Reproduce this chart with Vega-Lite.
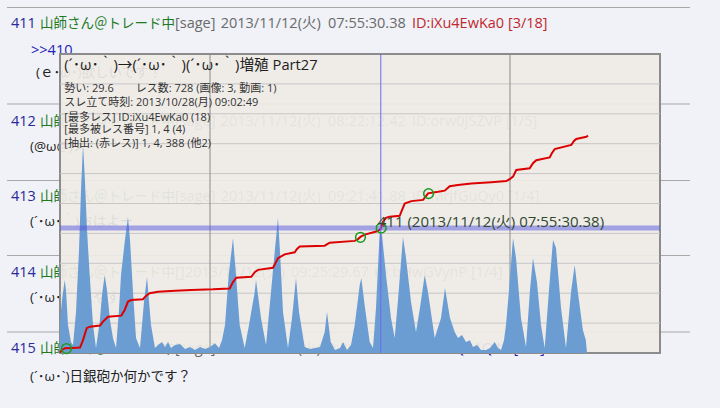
{
  "$schema": "https://vega.github.io/schema/vega-lite/v6.json",
  "width": 600,
  "height": 299,
  "autosize": {"type": "none"},
  "padding": {"left": 60, "top": 54, "right": 60, "bottom": 55},
  "background": "#f0f2f7",
  "config": {"view": {"stroke": null}, "axis": {"disable": true}, "text": {"font": "Open Sans, Noto Sans CJK JP"}},
  "datasets": {
    "seps": [{"n": 1155.5}, {"n": 832.8}, {"n": 576.9}, {"n": 326.1}, {"n": 70.2}],
    "page": [
      {"d": -2.287, "n": 1098.7, "t": "411", "k": "num"},
      {"d": -0.933, "n": 1098.7, "t": "山師さん＠トレード中", "k": "name"},
      {"d": 5.367, "n": 1098.7, "t": "[sage]", "k": "meta"},
      {"d": 7.499, "n": 1098.7, "t": "2013/11/12(火)", "k": "meta"},
      {"d": 12.507, "n": 1098.7, "t": "07:55:30.38", "k": "meta"},
      {"d": 16.427, "n": 1098.7, "t": "ID:iXu4EwKa0 [3/18]", "k": "id"},
      {"d": -1.353, "n": 1010, "t": ">>410", "k": "link"},
      {"d": -1.12, "n": 938, "t": "(ｅ･ω･)欲しいです！", "k": "body"},
      {"d": -2.287, "n": 774.2, "t": "412", "k": "num"},
      {"d": -0.933, "n": 774.2, "t": "山師さん＠トレード中", "k": "name"},
      {"d": 5.367, "n": 774.2, "t": "[sage]", "k": "meta"},
      {"d": 7.499, "n": 774.2, "t": "2013/11/12(火)", "k": "meta"},
      {"d": 12.507, "n": 774.2, "t": "08:22:12.42", "k": "meta"},
      {"d": 16.427, "n": 774.2, "t": "ID:orw0JSZVP [1/5]", "k": "meta"},
      {"d": -1.4, "n": 687.3, "t": "(@ω@)ノ", "k": "body"},
      {"d": -2.287, "n": 520.1, "t": "413", "k": "num"},
      {"d": -0.933, "n": 520.1, "t": "山師さん＠トレード中", "k": "name"},
      {"d": 5.367, "n": 520.1, "t": "[sage]", "k": "meta"},
      {"d": 7.499, "n": 520.1, "t": "2013/11/12(火)", "k": "meta"},
      {"d": 12.507, "n": 520.1, "t": "09:21:41.88", "k": "meta"},
      {"d": 16.427, "n": 520.1, "t": "ID:MrjfGuQy0 [1/4]", "k": "meta"},
      {"d": -1.4, "n": 436.5, "t": "(´･ω･｀)おはよー", "k": "body"},
      {"d": -2.287, "n": 269.2, "t": "414", "k": "num"},
      {"d": -0.933, "n": 269.2, "t": "山師さん＠トレード中", "k": "name"},
      {"d": 5.367, "n": 269.2, "t": "[]", "k": "meta"},
      {"d": 5.833, "n": 269.2, "t": "2013/11/12(火)", "k": "meta"},
      {"d": 10.78, "n": 269.2, "t": "09:25:29.67", "k": "meta"},
      {"d": 14.653, "n": 269.2, "t": "ID:bHwGVynP [1/4]", "k": "meta"},
      {"d": -1.4, "n": 184, "t": "(´･ω･｀)ふやすよ", "k": "body"},
      {"d": -2.287, "n": 13.4, "t": "415", "k": "num"},
      {"d": -0.933, "n": 13.4, "t": "山師さん＠トレード中", "k": "name"},
      {"d": 5.367, "n": 13.4, "t": "[sage]", "k": "meta"},
      {"d": 7.499, "n": 13.4, "t": "2013/11/12(火)", "k": "meta"},
      {"d": 12.1, "n": 13.4, "t": "09:30:04.21", "k": "meta"},
      {"d": 15.68, "n": 13.4, "t": "ID:mB+8QkAQ40 [1/2]", "k": "link"},
      {"d": -1.4, "n": -80.3, "t": "(´･ω･`)日銀砲か何かです？", "k": "body"}
    ],
    "hgrid": [{"n": 100}, {"n": 200}, {"n": 300}, {"n": 400}, {"n": 500}, {"n": 600}, {"n": 700}, {"n": 800}, {"n": 900}],
    "vgrid": [{"d": 7}, {"d": 21}],
    "rate": [
      {"d": 0.0, "r": 10.4}, {"d": 0.093, "r": 17.7}, {"d": 0.219, "r": 24.4}, {"d": 0.28, "r": 21.1}, {"d": 0.373, "r": 9.4},
      {"d": 0.513, "r": 3.7}, {"d": 0.607, "r": 2.7}, {"d": 0.747, "r": 13.7}, {"d": 0.887, "r": 34.4}, {"d": 0.98, "r": 54.5},
      {"d": 1.073, "r": 69.6}, {"d": 1.153, "r": 59.5}, {"d": 1.26, "r": 41.1}, {"d": 1.386, "r": 26.1}, {"d": 1.54, "r": 9.4},
      {"d": 1.68, "r": 1.7}, {"d": 1.853, "r": 10.4}, {"d": 1.96, "r": 19.4}, {"d": 2.086, "r": 26.1}, {"d": 2.193, "r": 21.1},
      {"d": 2.333, "r": 11.0}, {"d": 2.473, "r": 5.0}, {"d": 2.613, "r": 1.7}, {"d": 2.753, "r": 14.4}, {"d": 2.847, "r": 26.1},
      {"d": 3.019, "r": 37.1}, {"d": 3.173, "r": 45.5}, {"d": 3.267, "r": 37.8}, {"d": 3.407, "r": 20.4}, {"d": 3.547, "r": 5.0},
      {"d": 3.733, "r": 1.7}, {"d": 3.92, "r": 17.1}, {"d": 4.06, "r": 25.4}, {"d": 4.247, "r": 9.4}, {"d": 4.433, "r": 1.7},
      {"d": 4.573, "r": 2.7}, {"d": 4.76, "r": 3.7}, {"d": 4.9, "r": 2.0}, {"d": 5.04, "r": 3.7}, {"d": 5.18, "r": 1.7},
      {"d": 5.367, "r": 2.7}, {"d": 5.6, "r": 3.0}, {"d": 5.833, "r": 1.3}, {"d": 6.067, "r": 2.0}, {"d": 6.3, "r": 1.0},
      {"d": 6.533, "r": 2.0}, {"d": 6.767, "r": 1.3}, {"d": 7.0, "r": 2.0}, {"d": 7.233, "r": 3.3}, {"d": 7.42, "r": 1.7},
      {"d": 7.56, "r": 4.3}, {"d": 7.7, "r": 9.4}, {"d": 7.873, "r": 26.1}, {"d": 8.073, "r": 38.5}, {"d": 8.213, "r": 26.1},
      {"d": 8.386, "r": 9.4}, {"d": 8.619, "r": 1.7}, {"d": 8.82, "r": 9.4}, {"d": 9.086, "r": 20.4}, {"d": 9.147, "r": 24.4},
      {"d": 9.38, "r": 11.7}, {"d": 9.613, "r": 2.7}, {"d": 9.847, "r": 20.4}, {"d": 10.019, "r": 33.8}, {"d": 10.173, "r": 45.2},
      {"d": 10.267, "r": 33.8}, {"d": 10.407, "r": 13.7}, {"d": 10.64, "r": 1.7}, {"d": 10.827, "r": 11.7}, {"d": 11.013, "r": 25.1},
      {"d": 11.153, "r": 13.7}, {"d": 11.419, "r": 2.0}, {"d": 11.667, "r": 1.3}, {"d": 11.9, "r": 1.7}, {"d": 12.133, "r": 2.0},
      {"d": 12.353, "r": 7.0}, {"d": 12.46, "r": 13.7}, {"d": 12.633, "r": 3.7}, {"d": 12.833, "r": 1.0}, {"d": 13.067, "r": 1.7},
      {"d": 13.207, "r": 3.7}, {"d": 13.393, "r": 1.0}, {"d": 13.58, "r": 2.7}, {"d": 13.753, "r": 9.4}, {"d": 13.986, "r": 22.7},
      {"d": 14.061, "r": 25.1}, {"d": 14.233, "r": 15.1}, {"d": 14.453, "r": 3.7}, {"d": 14.607, "r": 1.7}, {"d": 14.747, "r": 15.1},
      {"d": 14.919, "r": 40.5}, {"d": 15.027, "r": 39.5}, {"d": 15.213, "r": 26.1}, {"d": 15.447, "r": 11.7}, {"d": 15.619, "r": 5.0},
      {"d": 15.773, "r": 17.7}, {"d": 16.007, "r": 38.8}, {"d": 16.147, "r": 31.8}, {"d": 16.38, "r": 17.1}, {"d": 16.613, "r": 7.0},
      {"d": 16.8, "r": 15.1}, {"d": 17.019, "r": 26.1}, {"d": 17.173, "r": 20.4}, {"d": 17.486, "r": 5.0}, {"d": 17.78, "r": 11.7},
      {"d": 17.967, "r": 21.7}, {"d": 18.2, "r": 11.7}, {"d": 18.419, "r": 7.0}, {"d": 18.573, "r": 5.0}, {"d": 18.76, "r": 6.0},
      {"d": 18.947, "r": 3.7}, {"d": 19.133, "r": 4.3}, {"d": 19.273, "r": 2.0}, {"d": 19.46, "r": 2.7}, {"d": 19.647, "r": 1.0},
      {"d": 19.88, "r": 1.0}, {"d": 20.067, "r": 1.7}, {"d": 20.286, "r": 3.7}, {"d": 20.44, "r": 1.7}, {"d": 20.58, "r": 1.0},
      {"d": 20.72, "r": 4.3}, {"d": 20.813, "r": 9.4}, {"d": 20.953, "r": 21.1}, {"d": 21.14, "r": 38.5}, {"d": 21.28, "r": 31.8},
      {"d": 21.513, "r": 11.7}, {"d": 21.747, "r": 2.0}, {"d": 21.933, "r": 21.1}, {"d": 22.073, "r": 31.8}, {"d": 22.26, "r": 23.7},
      {"d": 22.447, "r": 9.4}, {"d": 22.619, "r": 1.7}, {"d": 22.82, "r": 21.1}, {"d": 23.007, "r": 37.8}, {"d": 23.147, "r": 35.1},
      {"d": 23.38, "r": 15.1}, {"d": 23.613, "r": 1.7}, {"d": 23.847, "r": 20.4}, {"d": 24.019, "r": 29.4}, {"d": 24.167, "r": 20.4},
      {"d": 24.4, "r": 7.7}, {"d": 24.54, "r": 4.3}, {"d": 24.593, "r": 0}
    ],
    "posts": [
      {"d": 0, "n": 1}, {"d": 0.093, "n": 10}, {"d": 0.233, "n": 16}, {"d": 0.56, "n": 17}, {"d": 0.933, "n": 18},
      {"d": 1.073, "n": 43}, {"d": 1.246, "n": 83}, {"d": 1.4, "n": 88}, {"d": 1.867, "n": 92}, {"d": 2.007, "n": 105},
      {"d": 2.24, "n": 121}, {"d": 2.86, "n": 125}, {"d": 3.019, "n": 144}, {"d": 3.173, "n": 172}, {"d": 3.327, "n": 177},
      {"d": 3.873, "n": 180}, {"d": 4.013, "n": 191}, {"d": 4.186, "n": 200}, {"d": 4.573, "n": 205}, {"d": 5.367, "n": 208},
      {"d": 6.127, "n": 211}, {"d": 7.14, "n": 213}, {"d": 7.92, "n": 216}, {"d": 8.073, "n": 237}, {"d": 8.227, "n": 252},
      {"d": 8.927, "n": 255}, {"d": 9.1, "n": 271}, {"d": 9.24, "n": 278}, {"d": 9.94, "n": 285}, {"d": 10.08, "n": 304},
      {"d": 10.173, "n": 317}, {"d": 10.486, "n": 330}, {"d": 10.953, "n": 337}, {"d": 11.06, "n": 348}, {"d": 11.186, "n": 356},
      {"d": 12.353, "n": 359}, {"d": 12.586, "n": 369}, {"d": 13.753, "n": 375}, {"d": 13.907, "n": 381}, {"d": 14.033, "n": 389},
      {"d": 14.22, "n": 396}, {"d": 14.84, "n": 408}, {"d": 14.967, "n": 415}, {"d": 15.073, "n": 439}, {"d": 15.213, "n": 452},
      {"d": 15.386, "n": 456}, {"d": 15.853, "n": 459}, {"d": 15.96, "n": 478}, {"d": 16.086, "n": 500}, {"d": 16.394, "n": 508},
      {"d": 16.94, "n": 512}, {"d": 17.08, "n": 525}, {"d": 17.173, "n": 534}, {"d": 17.64, "n": 539}, {"d": 17.953, "n": 543},
      {"d": 18.186, "n": 558}, {"d": 18.573, "n": 562}, {"d": 19.194, "n": 567}, {"d": 20.127, "n": 571}, {"d": 20.827, "n": 575},
      {"d": 21.0, "n": 582}, {"d": 21.14, "n": 590}, {"d": 21.294, "n": 612}, {"d": 21.919, "n": 618}, {"d": 22.073, "n": 635},
      {"d": 22.227, "n": 645}, {"d": 22.853, "n": 654}, {"d": 22.96, "n": 669}, {"d": 23.086, "n": 682}, {"d": 23.861, "n": 696},
      {"d": 23.987, "n": 709}, {"d": 24.094, "n": 716}, {"d": 24.56, "n": 723}, {"d": 24.64, "n": 727}
    ],
    "marks": [{"d": 0.3, "n": 15}, {"d": 14.023, "n": 387}, {"d": 14.99, "n": 418}, {"d": 17.2, "n": 533}],
    "current": [{"d": 14.97, "n": 418, "t": "411 (2013/11/12(火) 07:55:30.38)"}],
    "info": [
      {"d": 0.2, "n": 882, "t": "勢い: 29.6　　レス数: 728 (画像: 3, 動画: 1)"},
      {"d": 0.2, "n": 835, "t": "スレ立て時刻: 2013/10/28(月) 09:02:49"},
      {"d": 0.2, "n": 787, "t": "[最多レス] ID:iXu4EwKa0 (18)"},
      {"d": 0.2, "n": 745, "t": "[最多被レス番号] 1, 4 (4)"},
      {"d": 0.2, "n": 698, "t": "[抽出: (赤レス)] 1, 4, 388 (他2)"}
    ],
    "title": [{"d": 0.2, "n": 961, "t": "(´･ω･｀)→(´･ω･｀)(´･ω･｀)増殖 Part27"}]
  },
  "layer": [
    {
      "data": {"name": "seps"},
      "mark": {"type": "rule", "color": "#a8a8a8", "strokeWidth": 1},
      "encoding": {
        "x": {"datum": -2.473, "type": "quantitative", "scale": {"domain": [0, 28], "nice": false, "zero": false}},
        "x2": {"datum": 29.4},
        "y": {"field": "n", "type": "quantitative", "scale": {"domain": [0, 1000], "nice": false, "zero": false}}
      }
    },
    {
      "data": {"name": "page"},
      "transform": [{"filter": "datum.k === 'name' || datum.k === 'body'"}],
      "mark": {"type": "text", "align": "left", "baseline": "middle", "fontSize": 13.5},
      "encoding": {
        "x": {"field": "d", "type": "quantitative", "scale": {"domain": [0, 28], "nice": false, "zero": false}},
        "y": {"field": "n", "type": "quantitative", "scale": {"domain": [0, 1000], "nice": false, "zero": false}},
        "text": {"field": "t"},
        "color": {"field": "k", "type": "nominal", "legend": null,
          "scale": {"domain": ["num", "name", "meta", "id", "link", "body"], "range": ["#2a2a9a", "#1e7a1e", "#6a6a6a", "#c0282d", "#2323b8", "#222222"]}}
      }
    },
    {
      "data": {"name": "page"},
      "transform": [{"filter": "datum.k !== 'name' && datum.k !== 'body'"}],
      "mark": {"type": "text", "align": "left", "baseline": "middle", "fontSize": 14.5},
      "encoding": {
        "x": {"field": "d", "type": "quantitative", "scale": {"domain": [0, 28], "nice": false, "zero": false}},
        "y": {"field": "n", "type": "quantitative", "scale": {"domain": [0, 1000], "nice": false, "zero": false}},
        "text": {"field": "t"},
        "color": {"field": "k", "type": "nominal", "legend": null,
          "scale": {"domain": ["num", "name", "meta", "id", "link", "body"], "range": ["#2a2a9a", "#1e7a1e", "#6a6a6a", "#c0282d", "#2323b8", "#222222"]}}
      }
    },
    {
      "data": {"values": [{"d0": 0, "d1": 28, "n0": 0, "n1": 1000}]},
      "mark": {"type": "rect", "fill": "#efebe6", "fillOpacity": 0.92, "stroke": "#8c8c8c", "strokeWidth": 2},
      "encoding": {
        "x": {"field": "d0", "type": "quantitative", "scale": {"domain": [0, 28], "nice": false, "zero": false}},
        "x2": {"field": "d1"},
        "y": {"field": "n0", "type": "quantitative", "scale": {"domain": [0, 1000], "nice": false, "zero": false}},
        "y2": {"field": "n1"}
      }
    },
    {
      "data": {"name": "hgrid"},
      "mark": {"type": "rule", "color": "#c6c6c6", "strokeWidth": 1},
      "encoding": {
        "x": {"datum": 0, "type": "quantitative", "scale": {"domain": [0, 28], "nice": false, "zero": false}},
        "x2": {"datum": 28},
        "y": {"field": "n", "type": "quantitative", "scale": {"domain": [0, 1000], "nice": false, "zero": false}}
      }
    },
    {
      "data": {"name": "vgrid"},
      "mark": {"type": "rule", "color": "#8a8a8a", "strokeWidth": 1},
      "encoding": {
        "x": {"field": "d", "type": "quantitative", "scale": {"domain": [0, 28], "nice": false, "zero": false}},
        "y": {"datum": 0, "type": "quantitative", "scale": {"domain": [0, 1000], "nice": false, "zero": false}},
        "y2": {"datum": 1000}
      }
    },
    {
      "data": {"name": "rate"},
      "mark": {"type": "area", "color": "#6b9dd3", "interpolate": "linear"},
      "encoding": {
        "x": {"field": "d", "type": "quantitative", "scale": {"domain": [0, 28], "nice": false, "zero": false}},
        "y": {"field": "r", "type": "quantitative", "scale": {"domain": [0, 100], "nice": false, "zero": true}}
      }
    },
    {
      "data": {"name": "posts"},
      "mark": {"type": "line", "color": "#dd0000", "strokeWidth": 2},
      "encoding": {
        "x": {"field": "d", "type": "quantitative", "scale": {"domain": [0, 28], "nice": false, "zero": false}},
        "y": {"field": "n", "type": "quantitative", "scale": {"domain": [0, 1000], "nice": false, "zero": false}}
      }
    },
    {
      "data": {"values": [{"n": 418}]},
      "mark": {"type": "rule", "color": "#5555e0", "opacity": 0.5, "strokeWidth": 5},
      "encoding": {
        "x": {"datum": 0, "type": "quantitative", "scale": {"domain": [0, 28], "nice": false, "zero": false}},
        "x2": {"datum": 28},
        "y": {"field": "n", "type": "quantitative", "scale": {"domain": [0, 1000], "nice": false, "zero": false}}
      }
    },
    {
      "data": {"values": [{"d": 14.97}]},
      "mark": {"type": "rule", "color": "#6b6bee", "strokeWidth": 1},
      "encoding": {
        "x": {"field": "d", "type": "quantitative", "scale": {"domain": [0, 28], "nice": false, "zero": false}},
        "y": {"datum": 0, "type": "quantitative", "scale": {"domain": [0, 1000], "nice": false, "zero": false}},
        "y2": {"datum": 1000}
      }
    },
    {
      "data": {"name": "marks"},
      "mark": {"type": "point", "shape": "circle", "size": 95, "filled": false, "stroke": "#1c9a1c", "strokeWidth": 1.5, "opacity": 1},
      "encoding": {
        "x": {"field": "d", "type": "quantitative", "scale": {"domain": [0, 28], "nice": false, "zero": false}},
        "y": {"field": "n", "type": "quantitative", "scale": {"domain": [0, 1000], "nice": false, "zero": false}}
      }
    },
    {
      "data": {"name": "current"},
      "mark": {"type": "text", "align": "left", "baseline": "middle", "fontSize": 15, "color": "#2f4a2f", "dx": -3, "dy": -6},
      "encoding": {
        "x": {"field": "d", "type": "quantitative", "scale": {"domain": [0, 28], "nice": false, "zero": false}},
        "y": {"field": "n", "type": "quantitative", "scale": {"domain": [0, 1000], "nice": false, "zero": false}},
        "text": {"field": "t"}
      }
    },
    {
      "data": {"name": "title"},
      "mark": {"type": "text", "align": "left", "baseline": "middle", "fontSize": 14.7, "color": "#1e1e1e"},
      "encoding": {
        "x": {"field": "d", "type": "quantitative", "scale": {"domain": [0, 28], "nice": false, "zero": false}},
        "y": {"field": "n", "type": "quantitative", "scale": {"domain": [0, 1000], "nice": false, "zero": false}},
        "text": {"field": "t"}
      }
    },
    {
      "data": {"name": "info"},
      "mark": {"type": "text", "align": "left", "baseline": "middle", "fontSize": 11, "color": "#333333"},
      "encoding": {
        "x": {"field": "d", "type": "quantitative", "scale": {"domain": [0, 28], "nice": false, "zero": false}},
        "y": {"field": "n", "type": "quantitative", "scale": {"domain": [0, 1000], "nice": false, "zero": false}},
        "text": {"field": "t"}
      }
    }
  ],
  "resolve": {"scale": {"y": "independent"}}
}
